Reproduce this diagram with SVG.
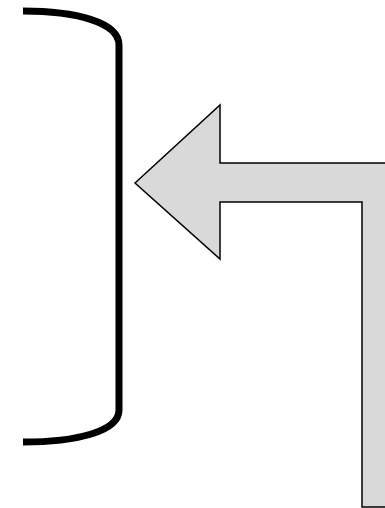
<svg xmlns="http://www.w3.org/2000/svg" width="385" height="508" viewBox="0 0 385 508">
<style>
.bracket{fill:none;stroke:#000;stroke-width:7}
.arrow{fill:#d9d9d9;stroke:#000;stroke-width:1.5;stroke-linejoin:miter}
</style>
<rect width="385" height="508" fill="#fff"/>
<g id="bracket">
<path class="bracket" d="M23,11 C75,11 119,22 119,45 L119,410 C119,432 75,442 23,442"/>
</g>
<g id="arrow">
<path class="arrow" d="M135,183 L220,105 L220,163 L401,163 L401,507 L362,507 L362,202 L220,202 L220,259 Z"/>
</g>
</svg>
